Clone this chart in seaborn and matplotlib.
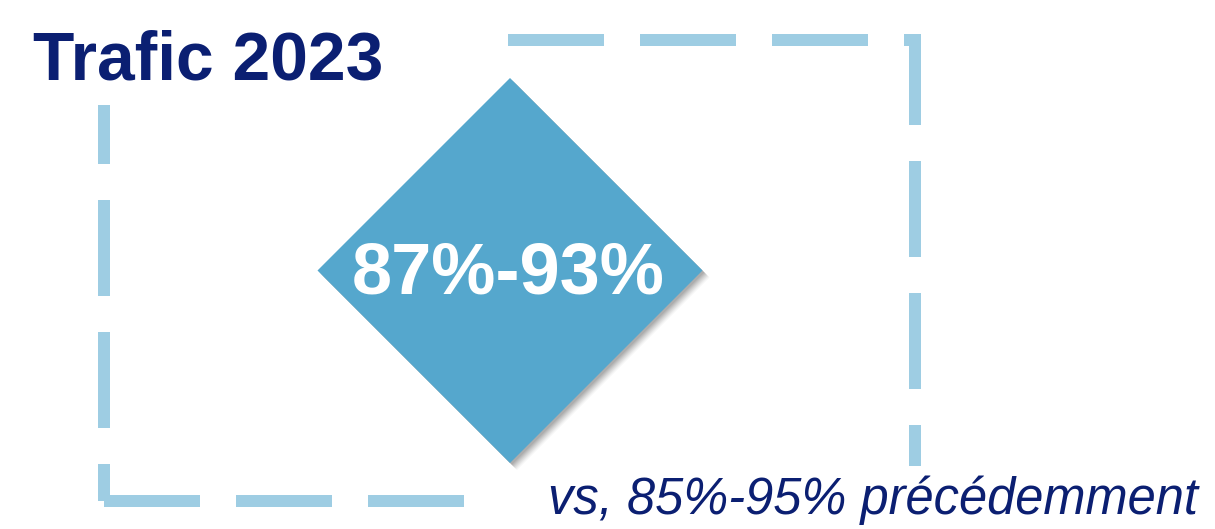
import matplotlib
matplotlib.use("Agg")
import matplotlib.pyplot as plt
import seaborn as sns
import numpy as np

# ---- data ----
title_label = "Trafic"
year = 2023
range_now = [87, 93]
range_prev = [85, 95]
prev_word = "précédemment"

sns.set_theme(style="white")
plt.rcParams['font.family'] = ['Liberation Sans', 'DejaVu Sans']
plt.rcParams['lines.scale_dashes'] = False

W, H = 1215, 529
fig = plt.figure(figsize=(W / 100, H / 100), dpi=100)
fig.patch.set_facecolor("white")
ax = fig.add_axes([0, 0, 1, 1])
ax.set_xlim(0, W)
ax.set_ylim(H, 0)
ax.axis("off")

PX = 0.72  # points per pixel at 100 dpi
frame_color = "#9ECDE3"
navy = "#0B1F72"
diamond_color = "#55A7CD"
lw = 12 * PX
dash = (96 * PX, 36 * PX)
x0, x1, y0, y1 = 104, 915, 40, 501

# dashed frame
ax.plot([x0, x1, x1], [y0, y0, y1], color=frame_color, lw=lw,
        linestyle=(124 * PX, dash), dash_capstyle="butt", dash_joinstyle="miter", zorder=1)
ax.plot([x0, x1], [y1, y1], color=frame_color, lw=lw,
        linestyle=(0, dash), dash_capstyle="butt", zorder=1)
ax.plot([x0, x0], [y1, y0], color=frame_color, lw=lw,
        linestyle=(59 * PX, dash), dash_capstyle="butt", zorder=1)

# white boxes behind title and subtitle
ax.add_patch(plt.Rectangle((0, 0), 490, 105, color="white", zorder=2, lw=0))
ax.add_patch(plt.Rectangle((482, 466), W - 482, H - 466, color="white", zorder=2, lw=0))

# diamond with soft shadow
cx, cy, r = 510, 270.5, 192.5
dx = np.array([0, r, 0, -r])
dy = np.array([-r, 0, r, 0])
for off, a in [(7, 0.05), (6, 0.07), (5, 0.09), (4, 0.11), (3, 0.13), (2, 0.15)]:
    ax.fill(cx + dx + off, cy + dy + off, color="#555555", alpha=a, lw=0, zorder=3)
ax.fill(cx + dx, cy + dy, color=diamond_color, lw=0, zorder=4)

renderer = fig.canvas.get_renderer()


def fit_text(x_left, x_right, baseline, s, **kw):
    t = ax.text(x_left, baseline, s, ha="left", va="baseline", fontsize=10, **kw)
    w = t.get_window_extent(renderer).width
    t.set_fontsize(10 * (x_right - x_left) / w)
    return t


fit_text(33, 382, 79, f"{title_label} {year}", color=navy, fontweight="bold", zorder=5)
fit_text(352, 665, 293, f"{range_now[0]}%-{range_now[1]}%", color="white",
         fontweight="bold", zorder=6)
fit_text(548, 1200, 514, f"vs, {range_prev[0]}%-{range_prev[1]}% {prev_word}",
         color=navy, fontstyle="italic", zorder=5)

fig.savefig("out.png", dpi=100, facecolor="white")
